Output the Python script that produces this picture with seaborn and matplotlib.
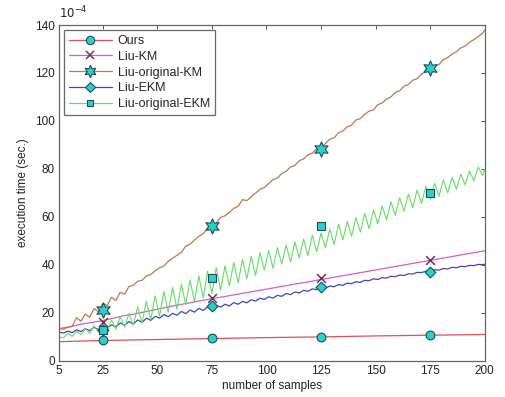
import numpy as np
import pandas as pd
import matplotlib
matplotlib.use("Agg")
import matplotlib.pyplot as plt
from matplotlib.lines import Line2D
import seaborn as sns

# ---------------- data (units of 1e-4 s) ----------------
labels = ["Ours", "Liu-KM", "Liu-original-KM", "Liu-EKM", "Liu-original-EKM"]

ours_x = [5, 25, 50, 75, 100, 125, 150, 175, 200]
ours_y = [8.0, 8.5, 8.9, 9.3, 9.7, 10.0, 10.4, 10.7, 11.0]

km_x = [5, 10, 15, 20, 25, 30, 35, 40, 45, 50, 55, 60, 65, 70, 75, 80, 85, 90, 95, 100,
        105, 110, 115, 120, 125, 130, 135, 140, 145, 150, 155, 160, 165, 170, 175, 180,
        185, 190, 195, 200]
km_y = [13.5, 14.2, 15.3, 16.0, 16.8, 17.8, 18.9, 19.6, 20.6, 21.5, 22.5, 23.4, 24.2, 25.1,
        25.9, 26.7, 27.5, 28.3, 29.1, 29.9, 30.7, 31.5, 32.3, 33.1, 33.9, 34.7, 35.5, 36.3,
        37.1, 37.9, 38.7, 39.5, 40.3, 41.1, 41.9, 42.7, 43.5, 44.3, 45.1, 45.9]

dense_x = list(range(5, 200, 2)) + [200]

okm_y = [13.5, 13.2, 14.0, 14.4, 18.0, 16.5, 19.5, 18.2, 21.8, 20.5, 24.0, 23.0, 26.5, 25.2,
         28.6, 27.8, 31.0, 31.5, 33.2, 33.6, 35.4, 36.0, 37.6, 38.8, 39.5, 41.5, 42.8, 44.0,
         45.2, 47.8, 48.6, 50.4, 51.9, 53.0, 55.2, 56.3, 57.4, 59.8, 60.5, 61.9, 63.6, 64.4,
         67.2, 66.8, 68.4, 69.9, 71.5, 72.3, 73.9, 75.6, 76.2, 78.1, 79.0, 80.8, 81.5, 83.4,
         84.2, 85.9, 86.6, 88.5, 88.8, 90.6, 92.4, 93.0, 95.1, 95.8, 97.6, 98.3, 100.4, 101.0,
         102.8, 104.1, 104.6, 106.8, 107.5, 109.2, 110.0, 111.9, 112.6, 114.5, 115.2, 117.0,
         117.6, 119.6, 120.4, 121.8, 123.0, 123.5, 125.6, 126.4, 127.9, 128.8, 130.5, 131.2,
         132.8, 133.9, 135.2, 136.6, 138.0]

ekm_y = [12.0, 11.6, 12.4, 11.8, 12.9, 12.2, 13.4, 12.6, 14.0, 13.1, 14.3, 13.6, 15.0, 14.2,
         15.8, 14.9, 16.4, 15.3, 17.1, 16.0, 17.8, 16.9, 18.6, 17.8, 19.3, 18.4, 19.8, 19.0,
         20.6, 19.7, 21.2, 20.3, 21.9, 21.0, 22.5, 21.9, 23.1, 22.4, 23.6, 22.9, 24.3, 23.6,
         24.8, 24.2, 25.5, 24.9, 26.1, 25.6, 26.7, 26.2, 27.3, 26.9, 28.1, 27.6, 28.7, 28.3,
         29.4, 29.0, 30.0, 29.7, 30.6, 30.3, 31.2, 30.9, 31.8, 31.5, 32.4, 32.2, 33.0, 32.7,
         33.6, 33.4, 34.2, 33.9, 34.7, 34.5, 35.3, 35.1, 35.8, 35.6, 36.3, 36.2, 36.9, 36.8,
         37.4, 37.3, 38.0, 37.8, 38.5, 38.3, 39.0, 38.8, 39.4, 39.3, 39.8, 39.7, 40.2, 40.1,
         40.3]

oekm_y = [10.0, 9.6, 11.5, 10.2, 12.3, 10.9, 13.4, 11.5, 14.6, 12.0, 15.2, 12.4, 17.0, 13.2,
          18.5, 14.0, 19.8, 14.9, 22.6, 15.8, 24.9, 17.2, 27.1, 18.6, 28.9, 20.3, 30.6, 21.5,
          32.0, 23.4, 33.8, 24.6, 35.5, 26.2, 37.4, 28.1, 38.9, 29.5, 39.6, 31.2, 41.0, 32.5,
          42.3, 34.2, 43.5, 35.6, 45.1, 37.9, 46.0, 38.6, 47.2, 40.4, 48.3, 41.2, 49.6, 42.9,
          50.8, 44.0, 52.4, 45.5, 53.3, 47.1, 55.0, 48.6, 56.9, 50.5, 58.2, 52.0, 59.8, 53.7,
          61.5, 55.1, 63.0, 57.2, 64.6, 58.8, 66.3, 60.7, 68.0, 62.4, 69.5, 63.9, 71.2, 65.6,
          72.8, 67.5, 74.0, 68.6, 75.5, 70.0, 76.4, 71.5, 77.9, 73.4, 79.1, 75.0, 80.8, 77.3,
          80.0]

marker_x = [25, 75, 125, 175]
ours_m = [8.75, 9.4, 10.1, 10.8]
km_m = [16.4, 26.4, 34.4, 42.1]
okm_m = [21.2, 56.4, 88.3, 122.0]
ekm_m = [12.9, 22.9, 30.7, 37.2]
oekm_m = [13.0, 34.7, 56.2, 70.0]

x_ticks = [5, 25, 50, 75, 100, 125, 150, 175, 200]
y_ticks = [0, 20, 40, 60, 80, 100, 120, 140]

# ---------------- style ----------------
sns.set_style("white")
plt.rcParams["font.family"] = ["Liberation Sans", "DejaVu Sans"]

line_colors = ["#e0505a", "#d65ad6", "#c07848", "#4545b8", "#66dd66"]
fill_c = "#2ad0cc"
edge_c = "#1f4f55"

fig = plt.figure(figsize=(5.05, 3.97), dpi=100)
ax = fig.add_axes([0.117, 0.091, 0.843, 0.846])

series = [(ours_x, ours_y), (km_x, km_y), (dense_x, okm_y), (dense_x, ekm_y), (dense_x, oekm_y)]
widths = [0.9, 0.9, 0.9, 0.9, 0.8]
for (xs, ys), c, w in zip(series, line_colors, widths):
    sns.lineplot(x=xs, y=ys, ax=ax, color=c, linewidth=w, estimator=None, sort=False)

mk_styles = [
    dict(marker="o", s=40, color=fill_c, edgecolor=edge_c, linewidth=0.8),
    dict(marker="x", s=40, color="#6a3a55", linewidth=1.1),
    dict(marker=(6, 1, 0), s=120, color=fill_c, edgecolor=edge_c, linewidth=0.8),
    dict(marker="D", s=30, color=fill_c, edgecolor=edge_c, linewidth=0.8),
    dict(marker="s", s=34, color=fill_c, edgecolor=edge_c, linewidth=0.8),
]
for ys, st in zip([ours_m, km_m, okm_m, ekm_m, oekm_m], mk_styles):
    sns.scatterplot(x=marker_x, y=ys, ax=ax, zorder=5, legend=False, **st)

ax.set_xlim(5, 200)
ax.set_ylim(0, 140)
ax.set_xticks(x_ticks)
ax.set_yticks(y_ticks)
ax.set_xticklabels([str(v) for v in x_ticks])
ax.set_yticklabels([str(v) for v in y_ticks])
ax.tick_params(direction="in", length=3, width=0.7, colors="#555555", labelcolor="#222222",
               labelsize=8.5, top=True, right=True, pad=3)
for sp in ax.spines.values():
    sp.set_visible(True)
    sp.set_color("#666666")
    sp.set_linewidth(0.9)

ax.set_xlabel("number of samples", fontsize=8.5, color="#222222", labelpad=2)
ax.set_ylabel("execution time (sec.)", fontsize=8.5, color="#222222", labelpad=4)
ax.text(0.0, 1.012, r"$10^{-4}$", transform=ax.transAxes, fontsize=8.5, color="#222222",
        ha="left", va="bottom")

handle_marks = [("o", 6.0), ("x", 6.0), ((6, 1, 0), 9), ("D", 5.0), ("s", 5.0)]
handles = []
for (m, ms), c in zip(handle_marks, line_colors):
    if m == "x":
        h = Line2D([], [], color=c, lw=0.9, marker="x", ms=ms, mec="#6a3a55", mew=1.1)
    else:
        h = Line2D([], [], color=c, lw=0.9, marker=m, ms=ms, mfc=fill_c, mec=edge_c, mew=0.8)
    handles.append(h)
leg = ax.legend(handles, labels, loc="upper left", fontsize=9, frameon=True, fancybox=False,
                handlelength=3.4, handletextpad=0.5, borderpad=0.4, labelspacing=0.3,
                borderaxespad=0.4)
leg.get_frame().set_edgecolor("#444444")
leg.get_frame().set_linewidth(0.9)

fig.savefig("out.png", dpi=100)
